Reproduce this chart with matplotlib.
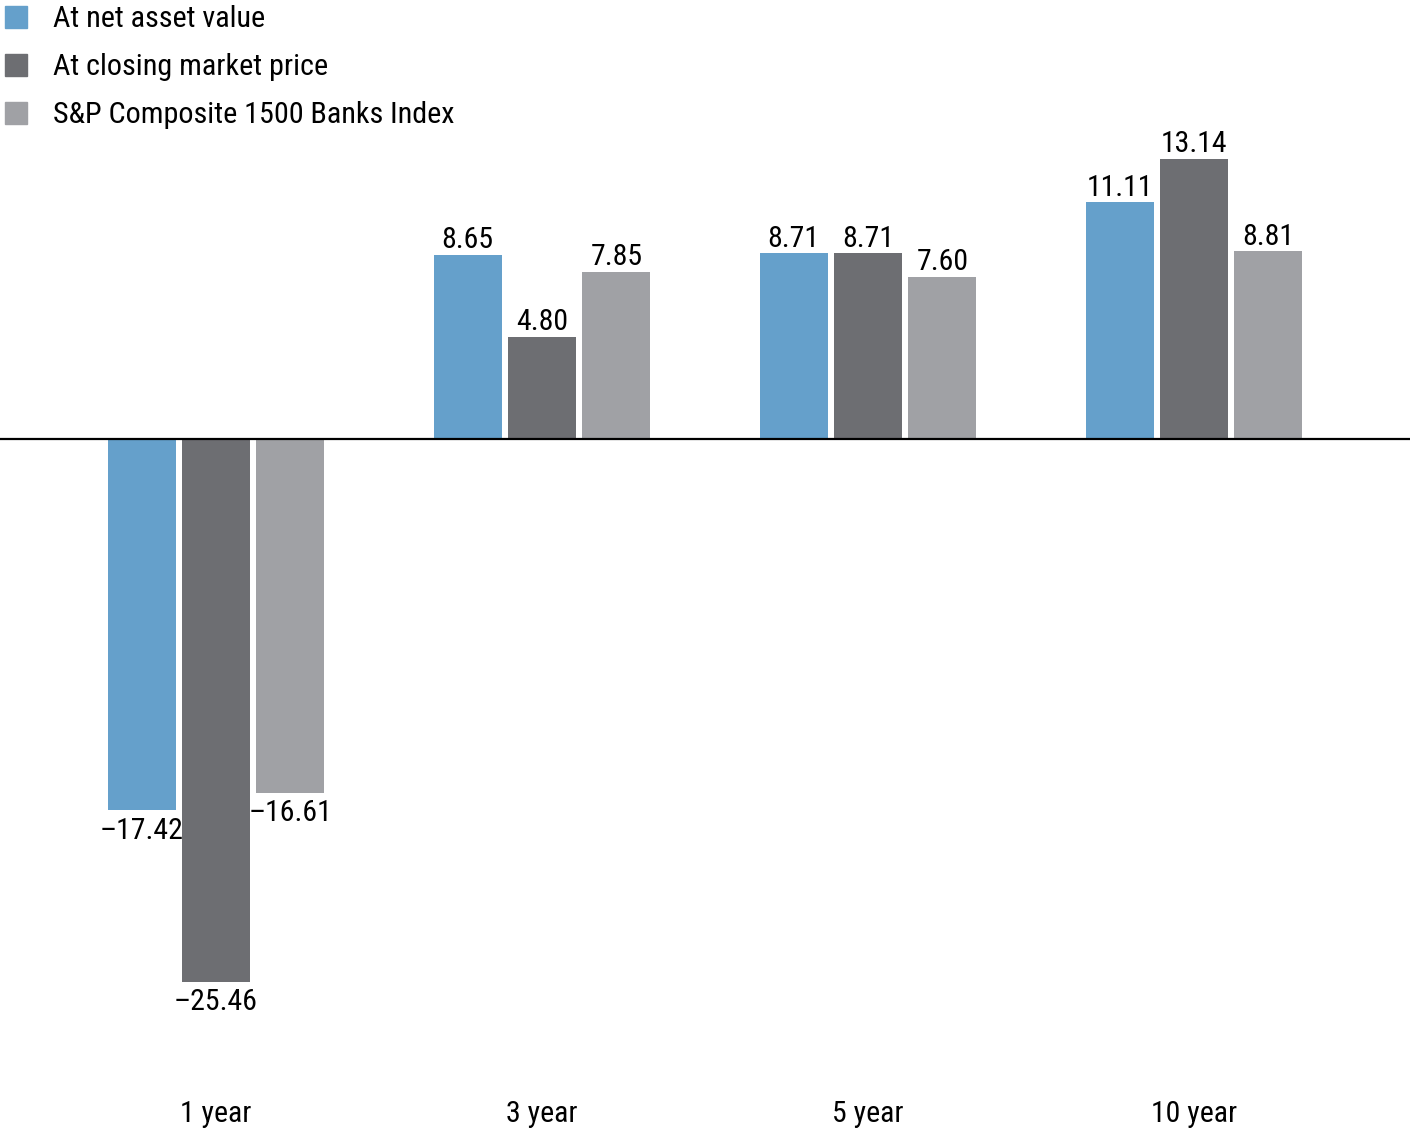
import matplotlib
matplotlib.use("Agg")
import matplotlib.pyplot as plt
from matplotlib import font_manager
from matplotlib.patches import Rectangle
import matplotlib.transforms as mtransforms

categories = ["1 year", "3 year", "5 year", "10 year"]
series_names = ["At net asset value", "At closing market price", "S&P Composite 1500 Banks Index"]
nav = [-17.42, 8.65, 8.71, 11.11]
market = [-25.46, 4.80, 8.71, 13.14]
index = [-16.61, 7.85, 7.60, 8.81]
colors = ["#65A0CB", "#6D6E72", "#A0A1A5"]

avail = {f.name for f in font_manager.fontManager.ttflist}
fam = [f for f in ["Liberation Sans Narrow", "Roboto Condensed", "DejaVu Sans"] if f in avail]
plt.rcParams["font.family"] = fam

fig = plt.figure(figsize=(14.10, 11.31), dpi=100)
ax = fig.add_axes([0, 0, 1, 1])
ax.set_xlim(-0.6626, 3.6626)
ax.set_ylim(-32.47, 20.6)
ax.axis("off")

width = 0.2086
step = 0.2285
series = [nav, market, index]
for i, (vals, col) in enumerate(zip(series, colors)):
    xs = [c + (i - 1) * step for c in range(len(categories))]
    ax.bar(xs, vals, width=width, color=col, zorder=2)
    for x, v in zip(xs, vals):
        lab = f"{v:.2f}".replace("-", "\u2013")
        if v >= 0:
            ax.annotate(lab, (x, v), xytext=(0, 0.5), textcoords="offset points",
                        ha="center", va="bottom", fontsize=21.5)
        else:
            ax.annotate(lab, (x, v), xytext=(0, -4.5), textcoords="offset points",
                        ha="center", va="top", fontsize=21.5)

ax.axhline(0, color="black", lw=1.6, zorder=3)

trans = mtransforms.blended_transform_factory(ax.transData, fig.transFigure)
for c, name in enumerate(categories):
    ax.text(c, 1 - 1114 / 1131, name, transform=trans, ha="center", va="center", fontsize=21.5)

# legend
for i, (name, col) in enumerate(zip(series_names, colors)):
    yc = 17 + 48 * i
    fig.patches.append(Rectangle((5 / 1410, 1 - (yc + 11) / 1131), 22 / 1410, 22 / 1131,
                                 transform=fig.transFigure, color=col))
    fig.text(53 / 1410, 1 - (yc + 2) / 1131, name, ha="left", va="center", fontsize=21.7)

fig.savefig("out.png", dpi=100)
